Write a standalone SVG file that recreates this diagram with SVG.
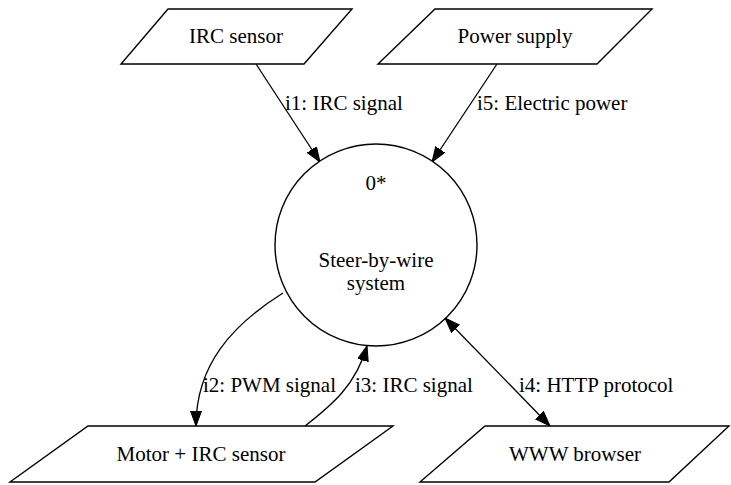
<svg xmlns="http://www.w3.org/2000/svg" width="731" height="485" viewBox="0 0 731 485">
  <style>
    .shape { fill: #ffffff; stroke: #000000; stroke-width: 1.4; }
    .edge { fill: none; stroke: #000000; stroke-width: 1.3; }
    text { font-family: "Liberation Serif", "Times New Roman", serif; font-size: 21px; fill: #000000; }
    .mid { text-anchor: middle; }
  </style>
  <defs>
    <marker id="arrow" markerUnits="userSpaceOnUse" markerWidth="17" markerHeight="13" refX="15" refY="5.5" orient="auto-start-reverse" viewBox="0 0 17 13">
      <path d="M0,0 L15,5.5 L0,11 z" fill="#000000" stroke="#000000" stroke-width="1"/>
    </marker>
  </defs>
  <rect width="731" height="485" fill="#ffffff"/>

  <!-- data flows -->
  <g id="connectors">
    <path class="edge" d="M256,64 L320,162" marker-end="url(#arrow)"/>
    <path class="edge" d="M497,64 L432,162" marker-end="url(#arrow)"/>
    <path class="edge" d="M283,293 C232,325 196,365 196,426" marker-end="url(#arrow)"/>
    <path class="edge" d="M305,426 C332,405 356,385 367,346" marker-end="url(#arrow)"/>
    <path class="edge" d="M445,318 L550,426" marker-start="url(#arrow)" marker-end="url(#arrow)"/>
    <text x="285" y="110">i1: IRC signal</text>
    <text x="477" y="110">i5: Electric power</text>
    <text x="203" y="392">i2: PWM signal</text>
    <text x="355" y="392">i3: IRC signal</text>
    <text x="519" y="392">i4: HTTP protocol</text>
  </g>

  <!-- terminators -->
  <g id="irc-sensor">
    <polygon class="shape" points="121,64 304,64 352,9 168,9"/>
    <text class="mid" x="236" y="43">IRC sensor</text>
  </g>
  <g id="power-supply">
    <polygon class="shape" points="378,64 597,64 652,9 435,9"/>
    <text class="mid" x="515" y="43">Power supply</text>
  </g>
  <g id="motor-irc-sensor">
    <polygon class="shape" points="10,482 315,482 393,426 88,426"/>
    <text class="mid" x="201" y="461">Motor + IRC sensor</text>
  </g>
  <g id="www-browser">
    <polygon class="shape" points="420,482 669,482 729,426 485,426"/>
    <text class="mid" x="575" y="461">WWW browser</text>
  </g>

  <!-- process -->
  <g id="steer-by-wire">
    <circle class="shape" cx="376" cy="245" r="101"/>
    <text class="mid" x="376" y="190">0*</text>
    <text class="mid" x="376" y="267">Steer-by-wire</text>
    <text class="mid" x="376" y="290">system</text>
  </g>
</svg>
